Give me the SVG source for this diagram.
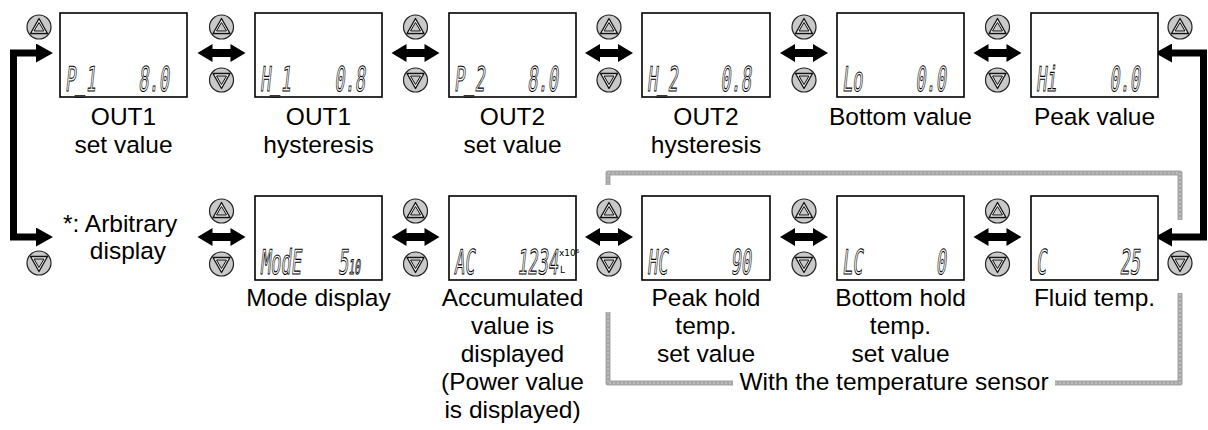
<svg xmlns="http://www.w3.org/2000/svg" xmlns:xlink="http://www.w3.org/1999/xlink" width="1208" height="430" viewBox="0 0 1208 430">
<style>
.lbl{font-family:"Liberation Sans",Arial,sans-serif;font-size:24.5px;fill:#000;text-anchor:middle}
.disp{fill:#fff;stroke:#000;stroke-width:1.6}
.seg{font-family:"DejaVu Sans Mono",monospace;font-size:34px;fill:#fff;stroke:#000;stroke-width:1.1}
.segs{font-family:"DejaVu Sans Mono",monospace;font-size:20px;fill:#fff;stroke:#000;stroke-width:1}
.segt{font-family:"DejaVu Sans",sans-serif;font-size:9px;fill:#000}
.end{text-anchor:end}
.blk{fill:none;stroke:#000;stroke-width:7;stroke-linejoin:miter}
.gray{fill:none;stroke:#a6a6a6;stroke-width:5;stroke-linejoin:round}
.grayd{fill:none;stroke:#cfcfcf;stroke-width:1;stroke-dasharray:2 2}
</style>
<defs>
<marker id="ah" markerUnits="userSpaceOnUse" markerWidth="18" markerHeight="19" refX="0" refY="9.5" orient="auto-start-reverse" viewBox="0 0 18 19">
<path d="M0,0 L17,9.5 L0,19 z" fill="#000"/>
</marker>
<path id="dbl" d="M-24,0 L-9,-9 L-9,-4 L9,-4 L9,-9 L24,0 L9,9 L9,4 L-9,4 L-9,9 z" fill="#000"/>
<g id="up">
<circle r="12" fill="#c9c9c9" stroke="#222" stroke-width="1.2"/>
<path d="M0,-8.5 L8.5,6.5 L-8.5,6.5 z" fill="#f2f2f2" stroke="#111" stroke-width="1.3" stroke-linejoin="round"/>
<path d="M0,-4.5 L5,4 L-5,4 z" fill="#c9c9c9" stroke="#111" stroke-width="1" stroke-linejoin="round"/>
</g>
<g id="dn">
<circle r="12" fill="#c9c9c9" stroke="#222" stroke-width="1.2"/>
<path d="M0,8.5 L8.5,-6.5 L-8.5,-6.5 z" fill="#f2f2f2" stroke="#111" stroke-width="1.3" stroke-linejoin="round"/>
<path d="M0,4.5 L5,-4 L-5,-4 z" fill="#c9c9c9" stroke="#111" stroke-width="1" stroke-linejoin="round"/>
</g>
</defs>

<g id="connectors">
<path class="blk" d="M36,53 H13.5 V237 H36" marker-start="url(#ah)" marker-end="url(#ah)"/>
<path class="blk" d="M1172,53 H1203.5 V237 H1172" marker-start="url(#ah)" marker-end="url(#ah)"/>
<use xlink:href="#dbl" x="221.5" y="53"/>
<use xlink:href="#dbl" x="415.5" y="53"/>
<use xlink:href="#dbl" x="609" y="53"/>
<use xlink:href="#dbl" x="804" y="53"/>
<use xlink:href="#dbl" x="997.5" y="53"/>
<use xlink:href="#dbl" x="221.5" y="237"/>
<use xlink:href="#dbl" x="415.5" y="237"/>
<use xlink:href="#dbl" x="609" y="237"/>
<use xlink:href="#dbl" x="804" y="237"/>
<use xlink:href="#dbl" x="997.5" y="237"/>
</g>

<g id="buttons">
<use xlink:href="#up" x="39" y="27"/>
<use xlink:href="#up" x="221.5" y="27"/><use xlink:href="#dn" x="221.5" y="80"/>
<use xlink:href="#up" x="415.5" y="27"/><use xlink:href="#dn" x="415.5" y="80"/>
<use xlink:href="#up" x="609" y="27"/><use xlink:href="#dn" x="609" y="80"/>
<use xlink:href="#up" x="804" y="27"/><use xlink:href="#dn" x="804" y="80"/>
<use xlink:href="#up" x="997.5" y="27"/><use xlink:href="#dn" x="997.5" y="80"/>
<use xlink:href="#up" x="1180" y="27"/>
<use xlink:href="#dn" x="39" y="263"/>
<use xlink:href="#up" x="221.5" y="211"/><use xlink:href="#dn" x="221.5" y="264"/>
<use xlink:href="#up" x="415.5" y="211"/><use xlink:href="#dn" x="415.5" y="264"/>
<use xlink:href="#up" x="609" y="211"/><use xlink:href="#dn" x="609" y="264"/>
<use xlink:href="#up" x="804" y="211"/><use xlink:href="#dn" x="804" y="264"/>
<use xlink:href="#up" x="997.5" y="211"/><use xlink:href="#dn" x="997.5" y="264"/>
<use xlink:href="#dn" x="1180" y="263"/>
</g>

<g id="sensor-bracket">
<path class="gray" d="M608,185 V173 H1180 V220"/>
<path class="gray" d="M608,312 V383 H733"/>
<path class="gray" d="M1055,383 H1180 V293"/>
<path class="grayd" d="M608,185 V173 H1180 V220"/>
<path class="grayd" d="M608,312 V383 H733"/>
<path class="grayd" d="M1055,383 H1180 V293"/>
<text class="lbl" x="894" y="390">With the temperature sensor</text>
</g>

<g id="n-out1-set">
<rect class="disp" x="60" y="13" width="127" height="84"/>
<text class="seg" transform="translate(65,91) skewX(-6) scale(0.5,1)">P<tspan dy="-2">_</tspan><tspan dy="2">1</tspan></text>
<text class="seg end" transform="translate(169,91) skewX(-6) scale(0.5,1)">8.0</text>
<text class="lbl" x="123.5" y="125">OUT1</text>
<text class="lbl" x="123.5" y="153">set value</text>
</g>
<g id="n-out1-hys">
<rect class="disp" x="255" y="13" width="127" height="84"/>
<text class="seg" transform="translate(260,91) skewX(-6) scale(0.5,1)">H<tspan dy="-2">_</tspan><tspan dy="2">1</tspan></text>
<text class="seg end" transform="translate(365,91) skewX(-6) scale(0.5,1)">0.8</text>
<text class="lbl" x="318.5" y="125">OUT1</text>
<text class="lbl" x="318.5" y="153">hysteresis</text>
</g>
<g id="n-out2-set">
<rect class="disp" x="449" y="13" width="127" height="84"/>
<text class="seg" transform="translate(454,91) skewX(-6) scale(0.5,1)">P<tspan dy="-2">_</tspan><tspan dy="2">2</tspan></text>
<text class="seg end" transform="translate(558,91) skewX(-6) scale(0.5,1)">8.0</text>
<text class="lbl" x="512.5" y="125">OUT2</text>
<text class="lbl" x="512.5" y="153">set value</text>
</g>
<g id="n-out2-hys">
<rect class="disp" x="642" y="13" width="128" height="84"/>
<text class="seg" transform="translate(647,91) skewX(-6) scale(0.5,1)">H<tspan dy="-2">_</tspan><tspan dy="2">2</tspan></text>
<text class="seg end" transform="translate(751,91) skewX(-6) scale(0.5,1)">0.8</text>
<text class="lbl" x="706" y="125">OUT2</text>
<text class="lbl" x="706" y="153">hysteresis</text>
</g>
<g id="n-bottom">
<rect class="disp" x="837" y="13" width="127" height="84"/>
<text class="seg" transform="translate(842,91) skewX(-6) scale(0.5,1)">Lo</text>
<text class="seg end" transform="translate(946,91) skewX(-6) scale(0.5,1)">0.0</text>
<text class="lbl" x="900.5" y="125">Bottom value</text>
</g>
<g id="n-peak">
<rect class="disp" x="1031" y="13" width="127" height="84"/>
<text class="seg" transform="translate(1036,91) skewX(-6) scale(0.5,1)">Hi</text>
<text class="seg end" transform="translate(1140,91) skewX(-6) scale(0.5,1)">0.0</text>
<text class="lbl" x="1094.5" y="125">Peak value</text>
</g>

<g id="n-arbitrary">
<text class="lbl" x="63" y="232" style="text-anchor:start">*: Arbitrary</text>
<text class="lbl" x="128" y="259">display</text>
</g>
<g id="n-mode">
<rect class="disp" x="255" y="196" width="127" height="84"/>
<text class="seg" transform="translate(260,274) skewX(-6) scale(0.5,1)">ModE</text>
<text class="seg" transform="translate(338,274) skewX(-6) scale(0.5,1)">5<tspan class="segs">10</tspan></text>
<text class="lbl" x="318.5" y="306">Mode display</text>
</g>
<g id="n-accum">
<rect class="disp" x="449" y="196" width="127" height="84"/>
<text class="seg" transform="translate(454,274) skewX(-6) scale(0.5,1)">AC</text>
<text class="seg end" transform="translate(558,274) skewX(-6) scale(0.5,1)">1234</text>
<text class="segt" x="559" y="256">x10⁶</text>
<text class="segt" x="560" y="273">L</text>
<text class="lbl" x="512.5" y="306">Accumulated</text>
<text class="lbl" x="512.5" y="334">value is</text>
<text class="lbl" x="512.5" y="362">displayed</text>
<text class="lbl" x="512.5" y="390">(Power value</text>
<text class="lbl" x="512.5" y="418">is displayed)</text>
</g>
<g id="n-peak-hold">
<rect class="disp" x="642" y="196" width="128" height="84"/>
<text class="seg" transform="translate(647,274) skewX(-6) scale(0.5,1)">HC</text>
<text class="seg end" transform="translate(751,274) skewX(-6) scale(0.5,1)">90</text>
<text class="lbl" x="706" y="306">Peak hold</text>
<text class="lbl" x="706" y="334">temp.</text>
<text class="lbl" x="706" y="362">set value</text>
</g>
<g id="n-bottom-hold">
<rect class="disp" x="837" y="196" width="127" height="84"/>
<text class="seg" transform="translate(842,274) skewX(-6) scale(0.5,1)">LC</text>
<text class="seg end" transform="translate(946,274) skewX(-6) scale(0.5,1)">0</text>
<text class="lbl" x="900.5" y="306">Bottom hold</text>
<text class="lbl" x="900.5" y="334">temp.</text>
<text class="lbl" x="900.5" y="362">set value</text>
</g>
<g id="n-fluid">
<rect class="disp" x="1031" y="196" width="127" height="84"/>
<text class="seg" transform="translate(1036,274) skewX(-6) scale(0.5,1)">C</text>
<text class="seg end" transform="translate(1140,274) skewX(-6) scale(0.5,1)">25</text>
<text class="lbl" x="1094.5" y="306">Fluid temp.</text>
</g>
</svg>
